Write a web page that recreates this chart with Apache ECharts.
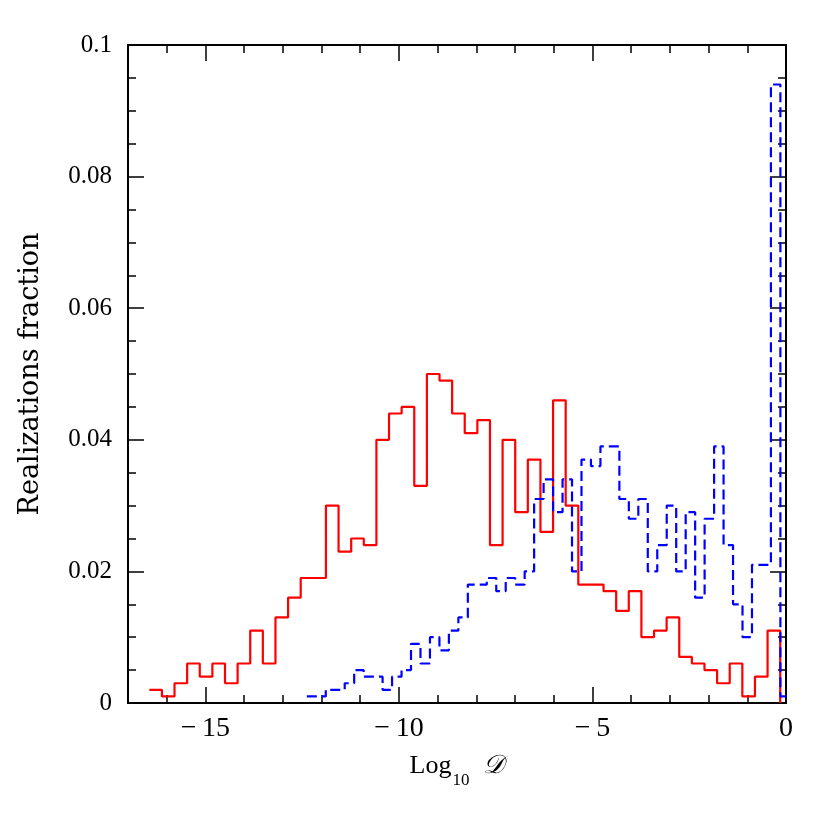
<!DOCTYPE html>
<html>
<head>
<meta charset="utf-8">
<script src="https://cdn.jsdelivr.net/npm/echarts@6/dist/echarts.min.js"></script>
<style>
  html, body { margin: 0; padding: 0; background: #fff; }
  #chart { width: 830px; height: 830px; }
</style>
</head>
<body>
<div id="chart"></div>
<script>
// histogram bins (log10 D), left edge + width
const redStart = -16.45
const redWidth = 0.326
const redValues = [
  0.002, 0.001, 0.003, 0.006, 0.004, 0.006, 0.003, 0.006, 0.011, 0.006,
  0.013, 0.016, 0.019, 0.019, 0.030, 0.023, 0.025, 0.024, 0.040, 0.044,
  0.045, 0.033, 0.050, 0.049, 0.044, 0.041, 0.043, 0.024, 0.040, 0.029,
  0.037, 0.026, 0.046, 0.030, 0.018, 0.018, 0.017, 0.014, 0.017, 0.010,
  0.011, 0.013, 0.007, 0.006, 0.005, 0.003, 0.006, 0.001, 0.004, 0.011
]

const blueStart = -12.38
const blueWidth = 0.2447
const blueValues = [
  0.001, 0.001, 0.002, 0.002, 0.003, 0.005, 0.004, 0.004, 0.002, 0.004,
  0.005, 0.009, 0.006, 0.010, 0.008, 0.011, 0.013, 0.018, 0.018, 0.019,
  0.017, 0.019, 0.018, 0.020, 0.031, 0.034, 0.029, 0.034, 0.020, 0.037,
  0.036, 0.039, 0.039, 0.031, 0.028, 0.031, 0.020, 0.024, 0.030, 0.020,
  0.029, 0.016, 0.028, 0.039, 0.024, 0.015, 0.010, 0.021, 0.021, 0.094,
  0.001
]

const majorTicks = [-15, -10, -5, 0]

// left edges of each bin, plus closing point
function stepPoints(start, width, values, endValue) {
  const pts = values.map((v, i) => [start + i * width, v])
  pts.push([start + values.length * width, endValue])
  return pts
}

const serif = 'Liberation Serif'
const frame = { show: true, onZero: false, lineStyle: { color: '#000', width: 2 } }

function xAxisDef(position, labels, major) {
  const ax = {
    type: 'value',
    min: -17,
    max: 0,
    position: position,
    axisLine: frame,
    splitLine: { show: false },
    axisTick: { show: true, inside: true, length: major ? 16 : 8, lineStyle: { color: '#000', width: 1.5 } },
    axisLabel: { show: false }
  }
  if (major) {
    ax.axisTick.customValues = majorTicks
    ax.axisLabel = {
      show: labels,
      customValues: majorTicks,
      margin: 12,
      fontFamily: serif,
      fontSize: 28,
      color: '#000',
      formatter: v => (v < 0 ? '\u2212\u2009' + Math.abs(v) : String(v))
    }
  } else {
    ax.interval = 1
  }
  return ax
}

function yAxisDef(position, labels) {
  return {
    type: 'value',
    min: 0,
    max: 0.1,
    interval: 0.02,
    position: position,
    axisLine: frame,
    splitLine: { show: false },
    axisTick: { show: true, inside: true, length: 16, lineStyle: { color: '#000', width: 1.5 } },
    minorTick: { show: true, splitNumber: 4, length: 8, lineStyle: { color: '#000', width: 1.5 } },
    axisLabel: {
      show: labels,
      margin: 16,
      fontFamily: serif,
      fontSize: 25,
      color: '#000',
      formatter: v => (v === 0 ? '0' : v.toFixed(2).replace(/0$/, ''))
    }
  }
}

const chart = echarts.init(document.getElementById('chart'), null, { renderer: 'canvas' })

const xBottom = xAxisDef('bottom', true, true)
xBottom.name = '{l|Log}{s|10}{d|𝒟}'
xBottom.nameLocation = 'middle'
xBottom.nameGap = 50
xBottom.nameTextStyle = {
  color: '#000',
  rich: {
    l: { fontFamily: serif, fontSize: 26, color: '#000' },
    s: { fontFamily: serif, fontSize: 17, color: '#000', verticalAlign: 'bottom', padding: [0, 0, -10, 1] },
    d: { fontFamily: serif, fontSize: 26, fontStyle: 'italic', color: '#000', padding: [0, 0, 0, 14] }
  }
}

const yLeft = yAxisDef('left', true)
yLeft.name = 'Realizations fraction'
yLeft.nameLocation = 'middle'
yLeft.nameGap = 84
yLeft.nameTextStyle = { fontFamily: 'DejaVu Serif', fontSize: 27, color: '#000' }

const option = {
  backgroundColor: '#fff',
  animation: false,
  grid: { left: 128, top: 45, right: 44, bottom: 127, containLabel: false, outerBoundsMode: 'none' },
  xAxis: [
    xBottom,
    xAxisDef('bottom', false, false),
    xAxisDef('top', false, true),
    xAxisDef('top', false, false)
  ],
  yAxis: [yLeft, yAxisDef('right', false)],
  series: [
    {
      name: 'red',
      type: 'line',
      step: 'end',
      xAxisIndex: 0,
      yAxisIndex: 0,
      symbol: 'none',
      clip: true,
      lineStyle: { color: '#ff0000', width: 2.2 },
      data: stepPoints(redStart, redWidth, redValues, 0)
    },
    {
      name: 'blue',
      type: 'line',
      step: 'end',
      xAxisIndex: 0,
      yAxisIndex: 0,
      symbol: 'none',
      clip: true,
      lineStyle: { color: '#0000ff', width: 2.2, type: [10, 5] },
      data: stepPoints(blueStart, blueWidth, blueValues, blueValues[blueValues.length - 1])
    }
  ]
}

chart.setOption(option)
</script>
</body>
</html>
